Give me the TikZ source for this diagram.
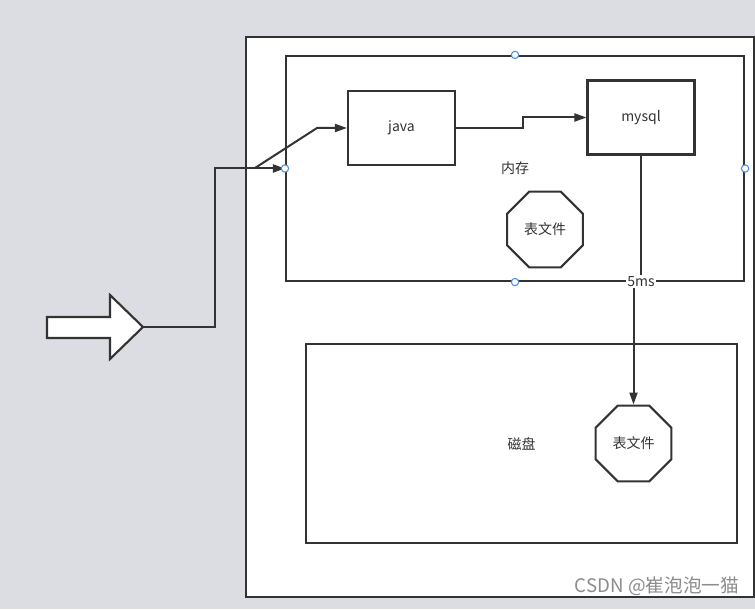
\documentclass[tikz,border=0pt]{standalone}
\usepackage{fontspec}
\setmainfont{Noto Sans CJK SC}
\usetikzlibrary{arrows.meta,shapes.geometric}
\definecolor{pagegray}{RGB}{220,221,226}
\definecolor{ink}{RGB}{51,51,51}
\definecolor{handleblue}{RGB}{74,144,226}
\definecolor{markgray}{RGB}{140,140,140}
\newcommand\labelfont{\fontsize{10.5}{12}\selectfont}

\begin{document}
\begin{tikzpicture}[x=0.75pt,y=-0.75pt,
 frame/.style={draw=ink,fill=white,line width=1.6pt,inner sep=0pt,font=\labelfont,text=ink},
 box/.style={draw=ink,fill=white,line width=1.6pt,minimum width=80.25pt,minimum height=55.5pt,inner sep=0pt,font=\labelfont,text=ink},
 octa/.style={draw=ink,fill=white,line width=1.6pt,regular polygon,regular polygon sides=8,minimum size=61.5pt,inner sep=0pt,font=\labelfont,text=ink},
 handle/.style={circle,draw=handleblue,fill=white,line width=0.8pt,minimum size=5.5pt,inner sep=0pt},
 flow/.style={draw=ink,line width=1.5pt,-{Triangle[length=9pt,width=6pt]}},
 tag/.style={fill=white,inner sep=1pt,font=\labelfont,text=ink}]
\fill[pagegray] (0,0) rectangle (755,609);
\useasboundingbox (0,0) rectangle (755,609);
\node[frame,minimum width=381pt,minimum height=420pt] (server) at (500,317) {};
\node[frame,minimum width=343.5pt,minimum height=168.75pt] (memory) at (515,168.5) {内存};
\node[frame,minimum width=323.25pt,minimum height=149.25pt] (disk) at (521.5,443.5) {磁盘};
\node[box] (java) at (401.5,128) {java};
\node[box] (mysql) at (641,117.5) {mysql};
\node[octa] (mfile) at (545,229.5) {表文件};
\node[octa] (dfile) at (633.5,443.5) {表文件};
% request arrow on the left
\filldraw[draw=ink,fill=white,line width=1.6pt,line join=miter]
 (47,317) -- (110,317) -- (110,295) -- (143,327) -- (110,359) -- (110,338) -- (47,338) -- cycle;
\coordinate (bigtip) at (143,327);
\coordinate (split) at (255,168);
\coordinate (bend) at (317,128);
\draw[flow] (bigtip) -- ++(72,0) |- (memory.west);
\draw[flow] (split) -- (bend) -- (java.west);
\draw[flow] (java.east) -- ++(67,0) |- (mysql.west);
\draw[flow] (mysql.south) -- ++(0,126) node[tag] (delay) {5ms} -| (dfile.north);
% selection handles
\foreach \side in {north,west,east,south}
 \node[handle] at (memory.\side) {};
\node[font=\fontsize{14}{16}\selectfont,text=markgray] (mark) at (657,586) {CSDN @崔泡泡一猫};
\end{tikzpicture}
\end{document}
